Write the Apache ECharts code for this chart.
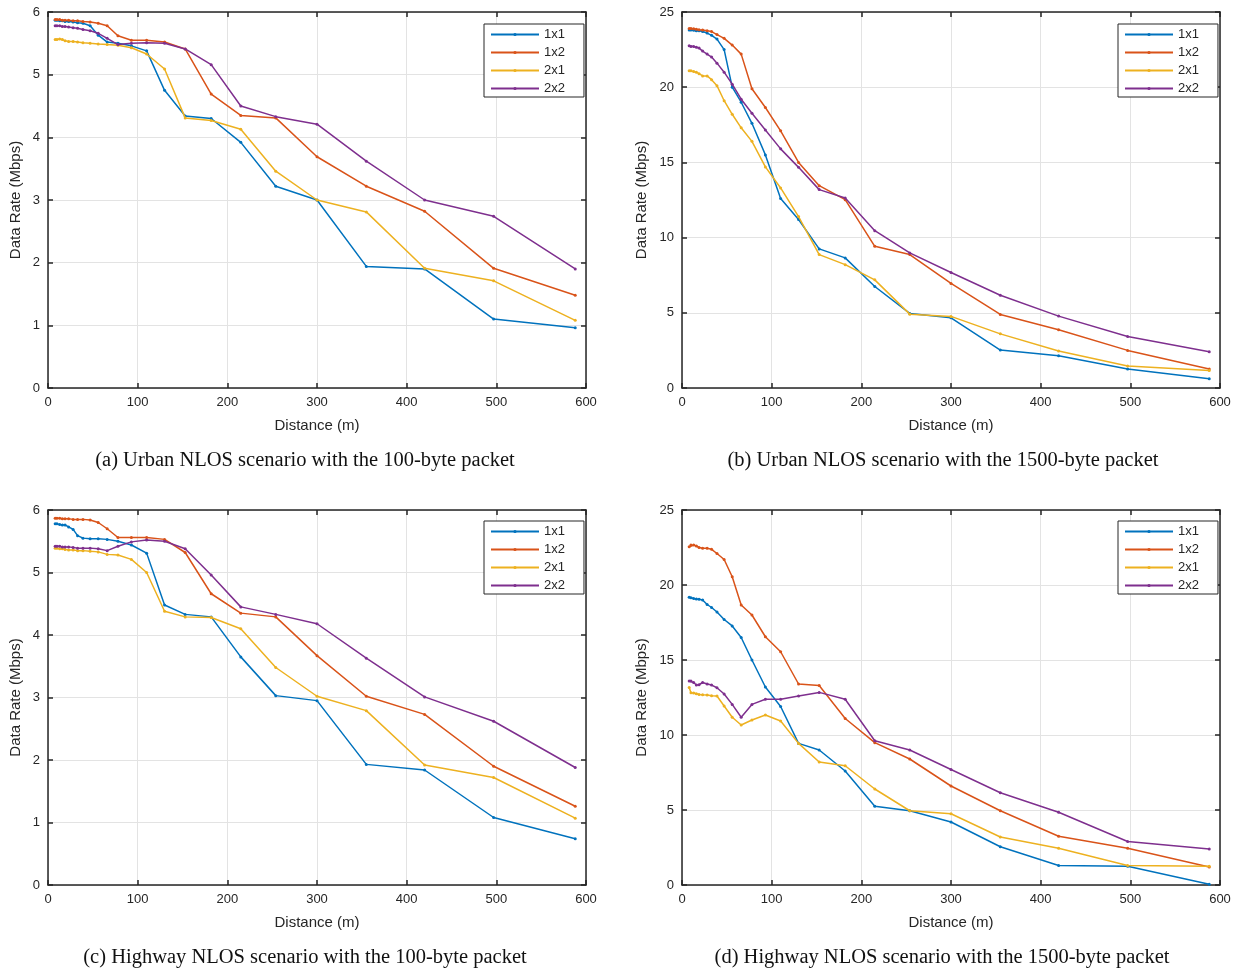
<!DOCTYPE html>
<html>
<head>
<meta charset="utf-8">
<script src="https://cdn.jsdelivr.net/npm/echarts@6/dist/echarts.min.js"></script>
<style>
html,body{margin:0;padding:0;background:#fff;}
#chart{width:1242px;height:971px;}
</style>
</head>
<body>
<div id="chart"></div>
<script>
// ---- Data ----
const distances = [8, 10, 13, 16, 19, 23, 28, 33, 39, 47, 56, 66, 78, 93, 110, 130, 153, 182, 215, 254, 300, 355, 420, 497, 588];
const seriesNames = ['1x1', '1x2', '2x1', '2x2'];
const xTicks = [0, 100, 200, 300, 400, 500, 600];
const yTicks100 = [0, 1, 2, 3, 4, 5, 6];
const yTicks1500 = [0, 5, 10, 15, 20, 25];
const captions = [
  '(a) Urban NLOS scenario with the 100-byte packet',
  '(b) Urban NLOS scenario with the 1500-byte packet',
  '(c) Highway NLOS scenario with the 100-byte packet',
  '(d) Highway NLOS scenario with the 1500-byte packet'
];

// (a) Urban, 100-byte
const urban100_1x1 = [5.87, 5.87, 5.86, 5.86, 5.85, 5.85, 5.84, 5.83, 5.82, 5.78, 5.63, 5.52, 5.50, 5.46, 5.38, 4.75, 4.34, 4.30, 3.92, 3.22, 3.00, 1.94, 1.90, 1.10, 0.96];
const urban100_1x2 = [5.88, 5.88, 5.88, 5.87, 5.87, 5.87, 5.86, 5.86, 5.85, 5.84, 5.82, 5.78, 5.62, 5.55, 5.55, 5.52, 5.41, 4.69, 4.35, 4.31, 3.69, 3.22, 2.82, 1.91, 1.48];
const urban100_2x1 = [5.56, 5.56, 5.57, 5.56, 5.54, 5.53, 5.53, 5.52, 5.51, 5.50, 5.49, 5.48, 5.47, 5.43, 5.33, 5.09, 4.31, 4.27, 4.13, 3.46, 3.00, 2.81, 1.91, 1.71, 1.08];
const urban100_2x2 = [5.78, 5.78, 5.78, 5.77, 5.77, 5.76, 5.75, 5.74, 5.72, 5.70, 5.66, 5.58, 5.48, 5.50, 5.51, 5.50, 5.41, 5.16, 4.50, 4.33, 4.21, 3.62, 3.00, 2.74, 1.90];

// (b) Urban, 1500-byte
const urban1500_1x1 = [23.8, 23.8, 23.78, 23.76, 23.75, 23.7, 23.6, 23.45, 23.2, 22.5, 20.0, 19.0, 17.6, 15.5, 12.6, 11.2, 9.25, 8.65, 6.75, 4.96, 4.67, 2.52, 2.15, 1.26, 0.62];
const urban1500_1x2 = [23.9, 23.9, 23.88, 23.85, 23.82, 23.8, 23.75, 23.7, 23.5, 23.25, 22.8, 22.2, 19.9, 18.65, 17.1, 15.0, 13.45, 12.52, 9.42, 8.87, 6.95, 4.89, 3.87, 2.5, 1.26];
const urban1500_2x1 = [21.1, 21.1, 21.05, 21.0, 20.9, 20.75, 20.75, 20.5, 20.1, 19.1, 18.2, 17.3, 16.4, 14.7, 13.3, 11.4, 8.87, 8.2, 7.19, 4.91, 4.76, 3.6, 2.46, 1.46, 1.17];
const urban1500_2x2 = [22.75, 22.7, 22.7, 22.65, 22.6, 22.4, 22.2, 22.0, 21.6, 21.0, 20.2, 19.2, 18.27, 17.15, 15.9, 14.67, 13.19, 12.63, 10.46, 8.98, 7.68, 6.17, 4.78, 3.43, 2.41];

// (c) Highway, 100-byte
const highway100_1x1 = [5.78, 5.78, 5.77, 5.76, 5.76, 5.73, 5.69, 5.59, 5.55, 5.54, 5.54, 5.53, 5.50, 5.44, 5.31, 4.48, 4.33, 4.29, 3.65, 3.03, 2.95, 1.93, 1.84, 1.08, 0.74];
const highway100_1x2 = [5.87, 5.87, 5.87, 5.86, 5.86, 5.86, 5.85, 5.85, 5.85, 5.84, 5.80, 5.70, 5.56, 5.56, 5.56, 5.53, 5.32, 4.66, 4.35, 4.29, 3.67, 3.02, 2.73, 1.90, 1.26];
const highway100_2x1 = [5.39, 5.39, 5.38, 5.38, 5.37, 5.36, 5.36, 5.35, 5.35, 5.34, 5.33, 5.29, 5.28, 5.21, 5.00, 4.38, 4.29, 4.28, 4.10, 3.48, 3.02, 2.79, 1.92, 1.72, 1.07];
const highway100_2x2 = [5.42, 5.42, 5.42, 5.41, 5.41, 5.41, 5.40, 5.39, 5.39, 5.39, 5.38, 5.35, 5.42, 5.49, 5.52, 5.50, 5.38, 4.96, 4.45, 4.33, 4.18, 3.63, 3.01, 2.62, 1.88];

// (d) Highway, 1500-byte
const highway1500_1x1 = [19.18, 19.15, 19.1, 19.07, 19.05, 19.0, 18.7, 18.5, 18.2, 17.7, 17.27, 16.5, 15.0, 13.2, 11.9, 9.44, 9.0, 7.6, 5.25, 4.95, 4.2, 2.55, 1.3, 1.25, 0.05];
const highway1500_1x2 = [22.55, 22.67, 22.67, 22.6, 22.5, 22.45, 22.45, 22.38, 22.1, 21.7, 20.55, 18.67, 18.0, 16.55, 15.55, 13.4, 13.3, 11.1, 9.49, 8.4, 6.6, 4.95, 3.25, 2.45, 1.2];
const highway1500_2x1 = [13.16, 12.82, 12.8, 12.75, 12.7, 12.68, 12.67, 12.62, 12.6, 11.93, 11.18, 10.67, 11.0, 11.33, 10.93, 9.44, 8.2, 7.95, 6.4, 4.95, 4.75, 3.2, 2.45, 1.3, 1.25];
const highway1500_2x2 = [13.6, 13.6, 13.5, 13.33, 13.35, 13.5, 13.4, 13.33, 13.15, 12.73, 12.04, 11.18, 12.04, 12.38, 12.38, 12.6, 12.84, 12.38, 9.62, 9.0, 7.7, 6.15, 4.85, 2.9, 2.4];

const panels = [
  { data: [urban100_1x1, urban100_1x2, urban100_2x1, urban100_2x2], yTicks: yTicks100 },
  { data: [urban1500_1x1, urban1500_1x2, urban1500_2x1, urban1500_2x2], yTicks: yTicks1500 },
  { data: [highway100_1x1, highway100_1x2, highway100_2x1, highway100_2x2], yTicks: yTicks100 },
  { data: [highway1500_1x1, highway1500_1x2, highway1500_2x1, highway1500_2x2], yTicks: yTicks1500 }
];

// ---- Layout / style ----
const colors = ['#0072BD', '#D95319', '#EDB120', '#7E2F8E'];
const gridPos = [
  { left: 48, top: 12, width: 538, height: 376 },
  { left: 682, top: 12, width: 538, height: 376 },
  { left: 48, top: 510, width: 538, height: 375 },
  { left: 682, top: 510, width: 538, height: 375 }
];
const legendPos = [
  { left: 484, top: 24 },
  { left: 1118, top: 24 },
  { left: 484, top: 521 },
  { left: 1118, top: 521 }
];
const captionPos = [
  { x: 305, y: 461 },
  { x: 943, y: 461 },
  { x: 305, y: 958 },
  { x: 942, y: 958 }
];
const axisColor = '#262626';
const labelFont = 'Liberation Sans, Arial, Helvetica, sans-serif';

const option = {
  backgroundColor: '#fff',
  animation: false,
  grid: [], xAxis: [], yAxis: [], series: [], legend: [], graphic: []
};

function boxAxisLine() {
  return { show: true, onZero: false, lineStyle: { color: axisColor, width: 1.5 } };
}
function boxTick() {
  return { show: true, inside: true, length: 5, lineStyle: { color: axisColor, width: 1.5 } };
}

panels.forEach((p, i) => {
  option.grid.push(Object.assign({ containLabel: false, show: false }, gridPos[i]));
  const yMax = p.yTicks[p.yTicks.length - 1];
  const yInt = p.yTicks[1] - p.yTicks[0];
  const xMax = xTicks[xTicks.length - 1];
  const xInt = xTicks[1] - xTicks[0];
  // bottom x axis
  option.xAxis.push({
    gridIndex: i, type: 'value', min: 0, max: xMax, interval: xInt, position: 'bottom',
    name: 'Distance (m)', nameLocation: 'middle', nameGap: 30,
    nameTextStyle: { fontFamily: labelFont, fontSize: 15, color: axisColor },
    axisLine: boxAxisLine(), axisTick: boxTick(),
    axisLabel: { fontFamily: labelFont, fontSize: 13, color: axisColor, margin: 8 },
    splitLine: { show: true, lineStyle: { color: '#e3e3e3', width: 1 } }
  });
  // top x axis (box)
  option.xAxis.push({
    gridIndex: i, type: 'value', min: 0, max: xMax, interval: xInt, position: 'top',
    axisLine: boxAxisLine(), axisTick: boxTick(),
    axisLabel: { show: false }, splitLine: { show: false }
  });
  // left y axis
  option.yAxis.push({
    gridIndex: i, type: 'value', min: 0, max: yMax, interval: yInt, position: 'left',
    name: 'Data Rate (Mbps)', nameLocation: 'middle', nameGap: yMax > 10 ? 33 : 25,
    nameTextStyle: { fontFamily: labelFont, fontSize: 15, color: axisColor },
    axisLine: boxAxisLine(), axisTick: boxTick(),
    axisLabel: { fontFamily: labelFont, fontSize: 13, color: axisColor, margin: 8 },
    splitLine: { show: true, lineStyle: { color: '#e3e3e3', width: 1 } }
  });
  // right y axis (box)
  option.yAxis.push({
    gridIndex: i, type: 'value', min: 0, max: yMax, interval: yInt, position: 'right',
    axisLine: boxAxisLine(), axisTick: boxTick(),
    axisLabel: { show: false }, splitLine: { show: false }
  });

  const names = seriesNames.map(n => n + '\u200B'.repeat(i));
  p.data.forEach((vals, s) => {
    option.series.push({
      name: names[s], type: 'line',
      xAxisIndex: i * 2, yAxisIndex: i * 2,
      data: distances.map((d, k) => [d, vals[k]]),
      symbol: 'circle', symbolSize: 3, showSymbol: true,
      lineStyle: { color: colors[s], width: 1.5 },
      itemStyle: { color: colors[s] },
      z: 3 + s
    });
  });

  option.legend.push({
    data: names, orient: 'vertical',
    left: legendPos[i].left, top: legendPos[i].top,
    backgroundColor: '#fff', borderColor: axisColor, borderWidth: 1,
    padding: [4, 19, 2, 6], itemGap: 5, itemWidth: 48, itemHeight: 4,
    textStyle: { fontFamily: labelFont, fontSize: 13, color: axisColor, lineHeight: 13 },
    formatter: n => n.replace(/\u200B/g, ''),
    selectedMode: false
  });

  option.graphic.push({
    type: 'text', x: captionPos[i].x, y: captionPos[i].y,
    style: {
      text: captions[i], align: 'center', verticalAlign: 'middle',
      font: '20.5px "Liberation Serif", "Times New Roman", serif', fill: '#111'
    }
  });
});

const chart = echarts.init(document.getElementById('chart'), null, { renderer: 'canvas' });
chart.setOption(option);
</script>
</body>
</html>
